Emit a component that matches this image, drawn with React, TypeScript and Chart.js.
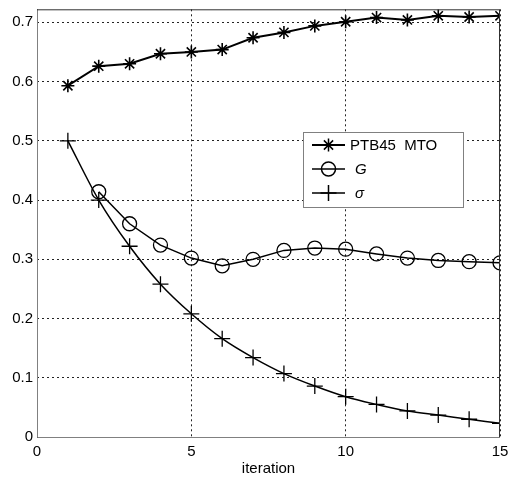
import React, { useEffect, useRef } from "react";
import { Chart, registerables } from "chart.js";

Chart.register(...registerables);

const iterations = [1, 2, 3, 4, 5, 6, 7, 8, 9, 10, 11, 12, 13, 14, 15];
const ptbValues = [0.593, 0.626, 0.63, 0.647, 0.65, 0.654, 0.674, 0.683, 0.694, 0.701, 0.708, 0.704, 0.711, 0.709, 0.711];
const gValues = [null, 0.414, 0.36, 0.324, 0.302, 0.289, 0.3, 0.315, 0.319, 0.317, 0.309, 0.302, 0.298, 0.296, 0.294];
const sigmaValues = [0.5, 0.4, 0.322, 0.258, 0.208, 0.166, 0.134, 0.107, 0.086, 0.068, 0.055, 0.044, 0.037, 0.03, 0.023];
const xTicks = [0, 5, 10, 15];
const yTicks = [0, 0.1, 0.2, 0.3, 0.4, 0.5, 0.6, 0.7];
const legendLabels = ["PTB45  MTO", "G", "σ"];
const xTitle = "iteration";

const FONT = "'Liberation Sans', Arial, sans-serif";

function drawMarker(ctx: CanvasRenderingContext2D, style: string, x: number, y: number, r: number) {
  ctx.beginPath();
  if (style === "circle") {
    ctx.arc(x, y, r, 0, Math.PI * 2);
  } else if (style === "cross") {
    ctx.moveTo(x - r, y);
    ctx.lineTo(x + r, y);
    ctx.moveTo(x, y - r);
    ctx.lineTo(x, y + r);
  } else {
    ctx.moveTo(x - r, y);
    ctx.lineTo(x + r, y);
    ctx.moveTo(x, y - r);
    ctx.lineTo(x, y + r);
    const d = r * 0.707;
    ctx.moveTo(x - d, y - d);
    ctx.lineTo(x + d, y + d);
    ctx.moveTo(x - d, y + d);
    ctx.lineTo(x + d, y - d);
  }
  ctx.stroke();
}

const boxPlugin = {
  id: "boxAndLegend",
  afterDraw(chart: any) {
    const { ctx, chartArea } = chart;
    const { left, right, top, bottom } = chartArea;
    ctx.save();
    ctx.lineWidth = 1;
    ctx.strokeStyle = "#808080";
    ctx.beginPath();
    ctx.moveTo(left + 0.5, top);
    ctx.lineTo(left + 0.5, bottom + 0.5);
    ctx.lineTo(right, bottom + 0.5);
    ctx.stroke();
    ctx.strokeStyle = "#303030";
    ctx.beginPath();
    ctx.moveTo(left, top + 0.5);
    ctx.lineTo(right - 0.5, top + 0.5);
    ctx.lineTo(right - 0.5, bottom);
    ctx.stroke();

    // legend
    const lx = 303, ly = 132, lw = 160, lh = 75;
    ctx.fillStyle = "#fff";
    ctx.fillRect(lx, ly, lw, lh);
    ctx.strokeStyle = "#808080";
    ctx.strokeRect(lx + 0.5, ly + 0.5, lw, lh);
    const rows = [145, 169, 193];
    const styles = ["star", "circle", "cross"];
    const radii = [6.5, 7, 8];
    const lws = [2, 1.5, 1.5];
    rows.forEach((ry, i) => {
      ctx.strokeStyle = "#000";
      ctx.lineWidth = lws[i];
      ctx.beginPath();
      ctx.moveTo(312, ry);
      ctx.lineTo(345, ry);
      ctx.stroke();
      ctx.lineWidth = 1.5;
      drawMarker(ctx, styles[i], 328.5, ry, radii[i]);
      ctx.fillStyle = "#000";
      ctx.font = (i === 0 ? "" : "italic ") + "15px " + FONT;
      ctx.textBaseline = "middle";
      ctx.textAlign = "left";
      ctx.fillText(legendLabels[i], i === 0 ? 350 : 355, ry + 1);
    });
    ctx.restore();
  },
};

export default function App() {
  const ref = useRef<HTMLCanvasElement | null>(null);
  useEffect(() => {
    document.body.style.margin = "0";
    const canvas = ref.current!;
    const mk = (vals: (number | null)[]) => iterations.map((x, i) => ({ x, y: vals[i] }));
    const chart = new Chart(canvas, {
      type: "line",
      data: {
        datasets: [
          {
            label: legendLabels[0],
            data: mk(ptbValues) as any,
            borderColor: "#000",
            borderWidth: 2,
            pointStyle: "star",
            pointRadius: 6.5,
            pointBorderWidth: 1.6,
            pointBorderColor: "#000",
            pointBackgroundColor: "rgba(0,0,0,0)",
            tension: 0,
          },
          {
            label: legendLabels[1],
            data: mk(gValues) as any,
            borderColor: "#000",
            borderWidth: 1.5,
            pointStyle: "circle",
            pointRadius: 7,
            pointBorderWidth: 1.3,
            pointBorderColor: "#000",
            pointBackgroundColor: "rgba(0,0,0,0)",
            tension: 0,
          },
          {
            label: legendLabels[2],
            data: mk(sigmaValues) as any,
            borderColor: "#000",
            borderWidth: 1.5,
            pointStyle: "cross",
            pointRadius: 8,
            pointBorderWidth: 1.3,
            pointBorderColor: "#000",
            cubicInterpolationMode: "monotone",
          },
        ],
      },
      options: {
        responsive: false,
        animation: false,
        layout: { padding: { top: 6, right: 10, left: 0, bottom: 0 } },
        plugins: { legend: { display: false }, tooltip: { enabled: false } },
        scales: {
          x: {
            type: "linear",
            min: 0,
            max: 15,
            afterBuildTicks: (s: any) => {
              s.ticks = xTicks.map((v) => ({ value: v }));
            },
            afterFit: (s: any) => {
              s.height = 41;
              s.paddingLeft = 0;
              s.paddingRight = 0;
            },
            grid: { color: "#222", lineWidth: 1, drawTicks: false },
            border: { display: false, dash: [2, 3] },
            ticks: { color: "#000", padding: 6, font: { family: FONT, size: 15 }, maxRotation: 0 },
            title: { display: true, text: xTitle, color: "#000", font: { family: FONT, size: 15 }, padding: { top: 0, bottom: 0 } },
          },
          y: {
            type: "linear",
            min: 0,
            max: 0.722,
            afterBuildTicks: (s: any) => {
              s.ticks = yTicks.map((v) => ({ value: v }));
            },
            afterFit: (s: any) => {
              s.width = 37;
              s.paddingTop = 0;
              s.paddingBottom = 0;
            },
            grid: { color: "#222", lineWidth: 1, drawTicks: false },
            border: { display: false, dash: [2, 3] },
            ticks: {
              color: "#000",
              padding: 4,
              font: { family: FONT, size: 15 },
              callback: (v: any) => String(Math.round(Number(v) * 10) / 10),
            },
          },
        },
      },
      plugins: [boxPlugin],
    });
    return () => chart.destroy();
  }, []);
  return <canvas ref={ref} width={510} height={478} style={{ display: "block" }} />;
}
